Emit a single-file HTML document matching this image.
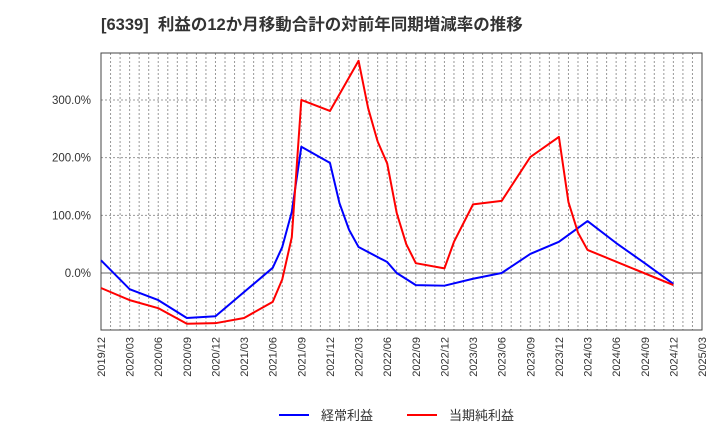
<!DOCTYPE html>
<html><head><meta charset="utf-8"><style>
body{margin:0;background:#fff;font-family:"Liberation Sans","Noto Sans CJK JP",sans-serif;}
#c{position:relative;width:720px;height:440px;overflow:hidden}
</style></head><body>
<div id="c">
<svg id="svg" width="720" height="440" xmlns="http://www.w3.org/2000/svg">
<text x="101" y="30" font-size="16.5" font-weight="bold" fill="#333" font-family="Liberation Sans, Noto Sans CJK JP, sans-serif">[6339]&#160;&#160;利益の12か月移動合計の対前年同期増減率の推移</text>
</svg>
</div>
<script>
const tickLabels=["2019/12","2020/03","2020/06","2020/09","2020/12","2021/03","2021/06","2021/09","2021/12","2022/03","2022/06","2022/09","2022/12","2023/03","2023/06","2023/09","2023/12","2024/03","2024/06","2024/09","2024/12","2025/03"];
const yTicks=[0,100,200,300];
const blueMonths=[0,3,6,9,12,15,18,19,20,21,24,25,26,27,30,31,33,36,39,42,45,48,51,54,57,60];
const blueValues=[22,-28,-47,-78,-75,-33,9,45,106,219,191,121,75,45,19,0,-21,-22,-10,0,33,54,90,52,17,-19];
const redMonths=[0,3,6,9,12,15,18,19,20,21,24,27,28,29,30,31,32,33,36,37,39,42,45,48,49,50,51,60];
const redValues=[-26,-47,-61,-88,-87,-78,-50,-11,62,300,281,368,286,228,190,104,50,17,8,54,119,125,201,236,123,70,40,-21];
const L=101,R=702,T=53,B=330,Y0=273,YS=0.5767;
const xs=m=>L+(R-L)*m/63;
const ys=v=>Y0-v*YS;
const svg=document.getElementById('svg');
const NS='http://www.w3.org/2000/svg';
function mk(t,a){const e=document.createElementNS(NS,t);for(const k in a)e.setAttribute(k,a[k]);svg.appendChild(e);return e;}
for(let m=1;m<63;m++){
 const g=mk('line',{x1:xs(m),x2:xs(m),y1:T,y2:B,stroke:'#999','stroke-dasharray':'2,2','stroke-width':1});
 
 
}
yTicks.forEach(v=>{
 const g=mk('line',{x1:L,x2:R,y1:ys(v),y2:ys(v),stroke:v===0?'#666':'#999','stroke-dasharray':v===0?'none':'2,2','stroke-width':1});
 
 
 const t=mk('text',{x:91,y:ys(v)+4,'text-anchor':'end','font-size':11.5,fill:'#333'});
 t.textContent=v.toFixed(1)+'%';
 
 
});
const fr=mk('rect',{x:L,y:T,width:R-L,height:B-T,fill:'none',stroke:'#444','stroke-width':1});


tickLabels.forEach((s,i)=>{
 const x=xs(i*3);
 const t=mk('text',{x:x+4,y:337,'text-anchor':'end','font-size':11,fill:'#333',transform:`rotate(-90 ${x+4} 337)`});
 t.textContent=s;
 
 
});
function line(ms,vs,col,name){
 const p=mk('polyline',{points:ms.map((m,i)=>xs(m)+','+ys(vs[i])).join(' '),fill:'none',stroke:col,'stroke-width':2,'stroke-linejoin':'round'});
 
 
}
line(blueMonths,blueValues,'#0000ff','series-ordinary-profit');
line(redMonths,redValues,'#ff0000','series-net-profit');
[['#0000ff','経常利益',279,'legend-ordinary-profit'],['#ff0000','当期純利益',407,'legend-net-profit']].forEach(([c,s,x,n])=>{
 const l=mk('line',{x1:x,x2:x+30,y1:415,y2:415,stroke:c,'stroke-width':2});
 
 
 const t=mk('text',{x:x+42,y:420,'font-size':13,fill:'#333'});
 t.textContent=s;
 
 
});
</script>
</body></html>
